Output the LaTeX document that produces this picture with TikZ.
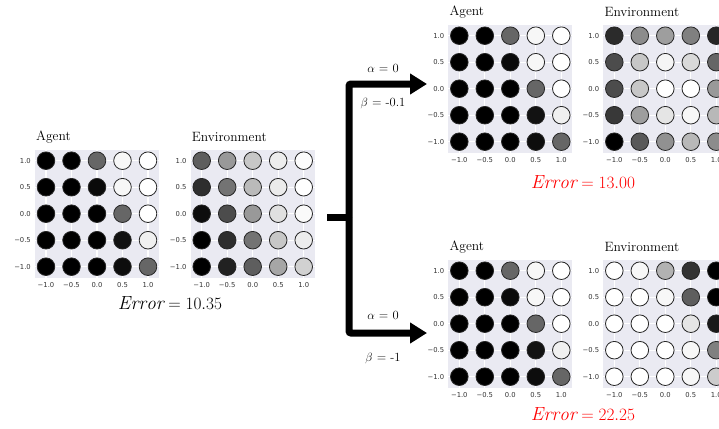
\documentclass[tikz,border=0pt]{standalone}
\usepackage{fontspec}
\usepackage{tikz}
\usetikzlibrary{arrows.meta}

\newfontfamily\tickfont{DejaVu Sans}
\definecolor{panelbg}{HTML}{EAEAF2}
\definecolor{errred}{HTML}{FF0000}

\tikzset{
  gridline/.style={white, line width=1.3pt},
  dotline/.style={draw=black!85, line width=0.8pt},
  tickstyle/.style={font=\tickfont\fontsize{6.8}{8}\selectfont, text=black!80, inner sep=0pt},
  paneltitle/.style={font=\fontsize{13.5}{15}\selectfont, inner sep=0pt},
  errlab/.style={font=\fontsize{19}{21}\selectfont, inner sep=0pt},
  branchlab/.style={font=\fontsize{12.5}{14}\selectfont, inner sep=0pt},
  branch/.style={line width=7pt, line cap=butt},
}

% #1 name, #2 x and #3 y of the top left dot, #4 title, #5 rows of darkness values
\newcommand{\gridpanel}[5]{%
  \fill[panelbg] (#2-11,#3-11) rectangle (#2+113,#3+117);
  \foreach \k in {0,...,4}{
    \draw[gridline] (#2+25.5*\k,#3-11) -- (#2+25.5*\k,#3+117);
    \draw[gridline] (#2-11,#3+26.5*\k) -- (#2+113,#3+26.5*\k);
  }
  \foreach \row [count=\j from 0] in {#5}{
    \foreach \dk [count=\i from 0] in \row{
      \filldraw[dotline, fill=black!\dk] (#2+25.5*\i,#3+26.5*\j) circle (8.8pt);
    }
  }
  \foreach \lab [count=\k from 0] in {−1.0,−0.5,0.0,0.5,1.0}{
    \node[tickstyle] (#1-xt\k) at (#2+25.5*\k,#3+124) {\lab};
  }
  \foreach \lab [count=\k from 0] in {1.0,0.5,0.0,−0.5,−1.0}{
    \node[tickstyle, anchor=east] (#1-yt\k) at (#2-15,#3+26.5*\k) {\lab};
  }
  \node[paneltitle, anchor=west] (#1-title) at (#2-10,#3-24) {#4};
}

\begin{document}
\begin{tikzpicture}[x=1pt, y=-1pt]
\useasboundingbox (0,0) rectangle (719,428);
\clip (0,0) rectangle (719,428);

% starting state
\gridpanel{agentL}{46}{160.7}{Agent}{{100,100,60,3,0},{100,100,96,3,0},{100,100,100,60,0},{100,100,100,93,6},{100,100,100,95,60}}
\gridpanel{envL}{201.7}{160.7}{Environment}{{63,40,22,7,1},{82,55,27,8,0},{95,70,40,12,2},{100,82,55,22,7},{100,87,63,35,18}}
\node[errlab] (err0) at (170,303) {$\mathit{Error} = 10.35$};

% upper branch
\gridpanel{agentU}{459.3}{35.7}{Agent}{{100,100,60,3,0},{100,100,96,3,0},{100,100,100,60,0},{100,100,100,93,6},{100,100,100,95,60}}
\gridpanel{envU}{614.3}{35.7}{Environment}{{83,45,38,50,85},{70,22,4,15,60},{70,22,0,0,40},{78,38,10,3,28},{100,65,43,28,45}}
\node[errlab, text=errred] (err1) at (583,182) {$\mathit{Error} = 13.00$};

% lower branch
\gridpanel{agentD}{459.3}{270.7}{Agent}{{100,100,60,3,0},{100,100,96,3,0},{100,100,100,60,0},{100,100,100,93,6},{100,100,100,95,60}}
\gridpanel{envD}{614.3}{270.7}{Environment}{{0,3,30,80,100},{0,0,3,63,100},{0,0,0,10,90},{0,0,0,3,50},{0,0,0,3,20}}
\node[errlab, text=errred] (err2) at (583,414) {$\mathit{Error} = 22.25$};

% split arrows
\coordinate (stub) at (327,217);
\coordinate (split) at (349,217);
\coordinate (uptip) at (427,84);
\coordinate (downtip) at (427,333);
\draw[branch] (stub) -- (split);
\draw[branch, rounded corners=2pt, -{Triangle[length=17pt,width=20pt]}] (split) |- (uptip);
\draw[branch, rounded corners=2pt, -{Triangle[length=17pt,width=20pt]}] (split) |- (downtip);

\node[branchlab] (alphaU) at (383,68) {$\alpha$ = 0};
\node[branchlab] (betaU) at (383,103) {$\beta$ = -0.1};
\node[branchlab] (alphaD) at (383,315) {$\alpha$ = 0};
\node[branchlab] (betaD) at (383,358) {$\beta$ = -1};

\end{tikzpicture}
\end{document}
